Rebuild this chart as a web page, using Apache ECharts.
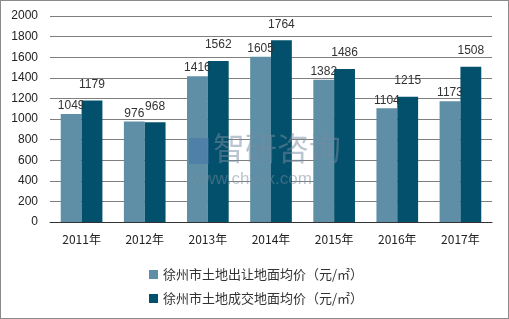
<!DOCTYPE html>
<html><head><meta charset="utf-8">
<script src="https://cdn.jsdelivr.net/npm/echarts@6/dist/echarts.min.js"></script>
<style>html,body{margin:0;padding:0;background:#fff}#c{width:509px;height:319px;box-sizing:border-box;border:1px solid #8a8a8a}</style>
</head><body><div id="c"></div>
<script>
var categories = ['2011年','2012年','2013年','2014年','2015年','2016年','2017年'];
var seriesNames = ['徐州市土地出让地面均价（元/㎡）','徐州市土地成交地面均价（元/㎡）'];
var transferPrice = [1049, 976, 1416, 1605, 1382, 1104, 1173];
var dealPrice = [1179, 968, 1562, 1764, 1486, 1215, 1508];
var yTicks = [0, 200, 400, 600, 800, 1000, 1200, 1400, 1600, 1800, 2000];

var chart = echarts.init(document.getElementById('c'));
var font = 'Liberation Sans, Arial, sans-serif';
chart.setOption({
  animation: false,
  textStyle: {fontFamily: font},
  grid: {left: 49, right: 16, top: 15, bottom: 96},
  legend: {
    orient: 'vertical', left: 143, top: 262, itemGap: 11,
    itemWidth: 9, itemHeight: 9, icon: 'rect',
    textStyle: {fontSize: 13, color: '#333', fontFamily: 'Noto Sans CJK SC'},
    data: seriesNames
  },
  xAxis: {
    type: 'category', data: categories,
    axisLine: {lineStyle: {color: '#333', width: 1}},
    axisTick: {show: false},
    axisLabel: {fontSize: 12, color: '#222', margin: 11, fontFamily: 'Noto Sans CJK SC'}
  },
  yAxis: {
    type: 'value', min: yTicks[0], max: yTicks[yTicks.length-1], interval: 200,
    axisLine: {show: false}, axisTick: {show: false},
    axisLabel: {fontSize: 12, color: '#222', margin: 12, formatter: function (v) { return String(v); }},
    splitLine: {lineStyle: {color: '#7f7f7f', width: 1}}
  },
  graphic: [
    {type: 'text', left: 212, top: 131, z: 100, style: {text: '智研咨询', fontSize: 32, fill: 'rgba(120,140,160,0.5)', fontFamily: 'Noto Sans CJK SC'}},
    {type: 'text', left: 190, top: 170, z: 100, style: {text: 'www.chyxx.com', fontSize: 17, fill: 'rgba(120,140,160,0.5)', fontFamily: font}},
    {type: 'rect', left: 188, top: 137, z: 100, shape: {width: 20, height: 26}, style: {fill: 'rgba(60,110,170,0.45)'}}
  ],
  series: [
    {name: seriesNames[0], type: 'bar', data: transferPrice, barGap: '0%', barCategoryGap: '34%',
     itemStyle: {color: '#5e8fa7'},
     label: {show: true, position: 'top', fontSize: 12, color: '#333', distance: 2}},
    {name: seriesNames[1], type: 'bar', data: dealPrice,
     itemStyle: {color: '#02506b'},
     label: {show: true, position: 'top', fontSize: 12, color: '#333', distance: 10}}
  ]
});
</script></body></html>
